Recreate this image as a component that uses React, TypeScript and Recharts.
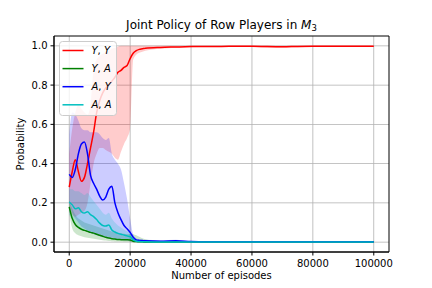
import {
  ComposedChart,
  Area,
  Line,
  XAxis,
  YAxis,
  ReferenceArea,
  Label,
} from "recharts";

// episodes: dense sampling early, sparse later
const episodes = [
  0, 1000, 2000, 3000, 4000, 5000, 6000, 7000, 8000, 9000, 10000, 11000, 12000,
  13000, 14000, 15000, 16000, 17000, 18000, 19000, 20000, 21000, 22000, 23000,
  24000, 25000, 30000, 35000, 40000, 45000, 50000, 55000, 60000, 65000, 70000,
  75000, 80000, 85000, 90000, 95000, 100000,
];

// Y,Y
const yyMean = [
  0.28, 0.36, 0.42, 0.36, 0.31, 0.33, 0.4, 0.48, 0.56, 0.66, 0.72, 0.76, 0.785,
  0.8, 0.82, 0.84, 0.865, 0.875, 0.89, 0.9, 0.935, 0.962, 0.975, 0.982, 0.985,
  0.988, 0.992, 0.994, 0.996, 0.997, 0.997, 0.998, 0.998, 0.996, 0.995, 0.997,
  0.998, 0.998, 0.998, 0.998, 0.998,
];
const yyLow = [
  0.17, 0.14, 0.13, 0.14, 0.15, 0.16, 0.2, 0.3, 0.4, 0.45, 0.48, 0.48, 0.47,
  0.46, 0.45, 0.43, 0.42, 0.46, 0.5, 0.53, 0.58, 0.93, 0.955, 0.965, 0.97,
  0.975, 0.985, 0.99, 0.993, 0.994, 0.995, 0.995, 0.995, 0.99, 0.99, 0.993,
  0.995, 0.995, 0.995, 0.995, 0.995,
];
const yyHigh = [
  0.45, 0.58, 0.66, 0.7, 0.68, 0.66, 0.65, 0.7, 0.88, 0.93, 0.95, 0.96, 0.97,
  0.975, 0.985, 0.99, 0.995, 1, 1, 1, 1, 1, 1, 1, 1, 1, 1, 1, 1, 1, 1, 1, 1, 1,
  1, 1, 1, 1, 1, 1, 1,
];

// Y,A
const yaMean = [
  0.18, 0.12, 0.09, 0.075, 0.066, 0.06, 0.055, 0.05, 0.046, 0.04, 0.035, 0.03,
  0.025, 0.021, 0.018, 0.016, 0.014, 0.013, 0.012, 0.012, 0.011, 0.005, 0.003,
  0.002, 0.002, 0.001, 0.001, 0.001, 0.001, 0.001, 0.001, 0.001, 0.001, 0.001,
  0.001, 0.001, 0.001, 0.001, 0.001, 0.001, 0.001,
];
const yaLow = [
  0.15, 0.07, 0.045, 0.035, 0.03, 0.025, 0.022, 0.02, 0.018, 0.015, 0.012, 0.01,
  0.008, 0.006, 0.005, 0.004, 0.003, 0.003, 0.002, 0.002, 0.001, 0, 0, 0, 0, 0,
  0, 0, 0, 0, 0, 0, 0, 0, 0, 0, 0, 0, 0, 0, 0,
];
const yaHigh = [
  0.21, 0.17, 0.14, 0.12, 0.11, 0.1, 0.095, 0.09, 0.085, 0.08, 0.075, 0.07,
  0.065, 0.06, 0.055, 0.05, 0.048, 0.045, 0.043, 0.042, 0.042, 0.04, 0.035,
  0.028, 0.02, 0.015, 0.006, 0.004, 0.003, 0.002, 0.002, 0.002, 0.002, 0.002,
  0.002, 0.002, 0.002, 0.002, 0.002, 0.002, 0.002,
];

// A,Y
const ayMean = [
  0.345, 0.33, 0.37, 0.45, 0.5, 0.51, 0.45, 0.34, 0.3, 0.27, 0.235, 0.215, 0.23,
  0.27, 0.285, 0.2, 0.15, 0.115, 0.085, 0.068, 0.05, 0.025, 0.012, 0.009, 0.008,
  0.007, 0.005, 0.007, 0.003, 0.002, 0.002, 0.002, 0.002, 0.002, 0.002, 0.002,
  0.002, 0.002, 0.002, 0.002, 0.002,
];
const ayLow = [
  0.2, 0.15, 0.12, 0.1, 0.08, 0.07, 0.06, 0.05, 0.04, 0.035, 0.03, 0.028, 0.025,
  0.022, 0.02, 0.018, 0.015, 0.012, 0.01, 0.008, 0.005, 0.003, 0.002, 0.002,
  0.001, 0.001, 0, 0, 0, 0, 0, 0, 0, 0, 0, 0, 0, 0, 0, 0, 0,
];
const ayHigh = [
  0.55, 0.66, 0.65, 0.62, 0.58, 0.57, 0.57, 0.56, 0.56, 0.56, 0.55, 0.53, 0.52,
  0.53, 0.45, 0.42, 0.4, 0.37, 0.3, 0.22, 0.12, 0.04, 0.02, 0.015, 0.013, 0.012,
  0.01, 0.012, 0.006, 0.004, 0.004, 0.004, 0.004, 0.004, 0.004, 0.004, 0.004,
  0.004, 0.004, 0.004, 0.004,
];

// A,A
const aaMean = [
  0.205, 0.19, 0.17, 0.175, 0.155, 0.148, 0.155, 0.14, 0.13, 0.115, 0.097,
  0.085, 0.082, 0.088, 0.062, 0.052, 0.045, 0.04, 0.037, 0.032, 0.028, 0.012,
  0.005, 0.003, 0.002, 0.002, 0.001, 0.001, 0.001, 0.001, 0.001, 0.001, 0.001,
  0.001, 0.001, 0.001, 0.001, 0.001, 0.001, 0.001, 0.001,
];
const aaLow = [
  0.14, 0.12, 0.1, 0.08, 0.07, 0.06, 0.055, 0.052, 0.05, 0.045, 0.04, 0.035,
  0.03, 0.028, 0.025, 0.02, 0.019, 0.018, 0.018, 0.016, 0.015, 0.005, 0.002,
  0.001, 0.001, 0, 0, 0, 0, 0, 0, 0, 0, 0, 0, 0, 0, 0, 0, 0, 0,
];
const aaHigh = [
  0.27, 0.27, 0.26, 0.26, 0.25, 0.24, 0.25, 0.23, 0.21, 0.19, 0.17, 0.15, 0.14,
  0.15, 0.12, 0.1, 0.085, 0.075, 0.065, 0.055, 0.05, 0.025, 0.012, 0.008, 0.006,
  0.005, 0.003, 0.002, 0.002, 0.002, 0.002, 0.002, 0.002, 0.002, 0.002, 0.002,
  0.002, 0.002, 0.002, 0.002, 0.002,
];

const xTicks = [0, 20000, 40000, 60000, 80000, 100000];
const yTicks = [0, 0.2, 0.4, 0.6, 0.8, 1.0];
const xDomain = [-5000, 105000];
const yDomain = [-0.05, 1.05];

const legendItems = [
  { a: "Y", b: "Y", color: "#ff0000" },
  { a: "Y", b: "A", color: "#008000" },
  { a: "A", b: "Y", color: "#0000ff" },
  { a: "A", b: "A", color: "#00bfbf" },
];

const data = episodes.map((episode, i) => ({
  episode,
  yy: yyMean[i],
  yyBand: [yyLow[i], yyHigh[i]],
  ya: yaMean[i],
  yaBand: [yaLow[i], yaHigh[i]],
  ay: ayMean[i],
  ayBand: [ayLow[i], ayHigh[i]],
  aa: aaMean[i],
  aaBand: [aaLow[i], aaHigh[i]],
}));

const font = "'DejaVu Sans', sans-serif";
const tickStyle = { fontSize: 10, fill: "#000", fontFamily: font };
const gridColor = "#b0b0b0";
// half-thickness of a grid line, in data units (~0.8px)
const gridHalfX = 130;
const gridHalfY = 0.002;

const series = [
  { key: "yy", color: "#ff0000" },
  { key: "ya", color: "#008000" },
  { key: "ay", color: "#0000ff" },
  { key: "aa", color: "#00bfbf" },
];

export default function App() {
  return (
    <div
      style={{
        position: "absolute",
        left: 0,
        top: 0,
        width: 432,
        height: 288,
        background: "#fff",
        fontFamily: font,
      }}
    >
      <div
        style={{
          position: "absolute",
          top: 18,
          left: 54,
          width: 335,
          textAlign: "center",
          fontSize: 12,
          lineHeight: "14px",
          color: "#000",
        }}
      >
        Joint Policy of Row Players in <i>M</i>
        <span style={{ fontSize: 8.5, position: "relative", top: 2 }}>3</span>
      </div>
      <ComposedChart
        width={432}
        height={288}
        data={data}
        margin={{ top: 36, right: 43, bottom: 0, left: 0 }}
      >
        <XAxis
          dataKey="episode"
          type="number"
          domain={xDomain}
          ticks={xTicks}
          allowDataOverflow
          height={36}
          tick={tickStyle}
          tickSize={3.5}
          tickMargin={4}
          stroke="#000"
        >
          <Label
            value="Number of episodes"
            position="insideBottom"
            offset={9}
            style={{ fontSize: 10, fill: "#000", fontFamily: font }}
          />
        </XAxis>
        <YAxis
          type="number"
          domain={yDomain}
          ticks={yTicks}
          allowDataOverflow
          width={54}
          tick={tickStyle}
          tickSize={3.5}
          tickMargin={3}
          stroke="#000"
          tickFormatter={(v: number) => v.toFixed(1)}
        >
          <Label
            value="Probability"
            angle={-90}
            position="insideLeft"
            offset={20}
            style={{ fontSize: 10, fill: "#000", fontFamily: font, textAnchor: "middle" }}
          />
        </YAxis>
        {xTicks.map((t) => (
          <ReferenceArea
            key={"gx" + t}
            x1={t - gridHalfX}
            x2={t + gridHalfX}
            y1={yDomain[0]}
            y2={yDomain[1]}
            fill={gridColor}
            fillOpacity={1}
            stroke="none"
          />
        ))}
        {yTicks.map((t) => (
          <ReferenceArea
            key={"gy" + t}
            x1={xDomain[0]}
            x2={xDomain[1]}
            y1={t - gridHalfY}
            y2={t + gridHalfY}
            fill={gridColor}
            fillOpacity={1}
            stroke="none"
          />
        ))}
        {series.map((s) => (
          <Area
            key={s.key + "Band"}
            dataKey={s.key + "Band"}
            type="monotone"
            stroke="none"
            fill={s.color}
            fillOpacity={0.2}
            isAnimationActive={false}
            dot={false}
            activeDot={false}
          />
        ))}
        {series.map((s) => (
          <Line
            key={s.key}
            dataKey={s.key}
            type="monotone"
            stroke={s.color}
            strokeWidth={1.5}
            dot={false}
            activeDot={false}
            isAnimationActive={false}
          />
        ))}
        <ReferenceArea
          x1={xDomain[0]}
          x2={xDomain[1]}
          y1={yDomain[0]}
          y2={yDomain[1]}
          fill="none"
          stroke="#000"
          strokeWidth={1}
          ifOverflow="visible"
        />
      </ComposedChart>
      <svg
        width={58}
        height={75}
        style={{ position: "absolute", left: 59, top: 40.5 }}
      >
        <rect
          x={0.5}
          y={0.5}
          width={57}
          height={74}
          rx={3}
          fill="#fff"
          fillOpacity={0.8}
          stroke="#cccccc"
          strokeWidth={1}
        />
        {legendItems.map((item, i) => (
          <g key={i}>
            <line
              x1={3.5}
              x2={24.5}
              y1={9.5 + i * 18.1}
              y2={9.5 + i * 18.1}
              stroke={item.color}
              strokeWidth={1.5}
            />
            <text
              x={32.5}
              y={13 + i * 18.1}
              fontSize={10}
              fontFamily={font}
              fill="#000"
            >
              <tspan fontStyle="italic">{item.a}</tspan>
              <tspan>, </tspan>
              <tspan fontStyle="italic">{item.b}</tspan>
            </text>
          </g>
        ))}
      </svg>
    </div>
  );
}
